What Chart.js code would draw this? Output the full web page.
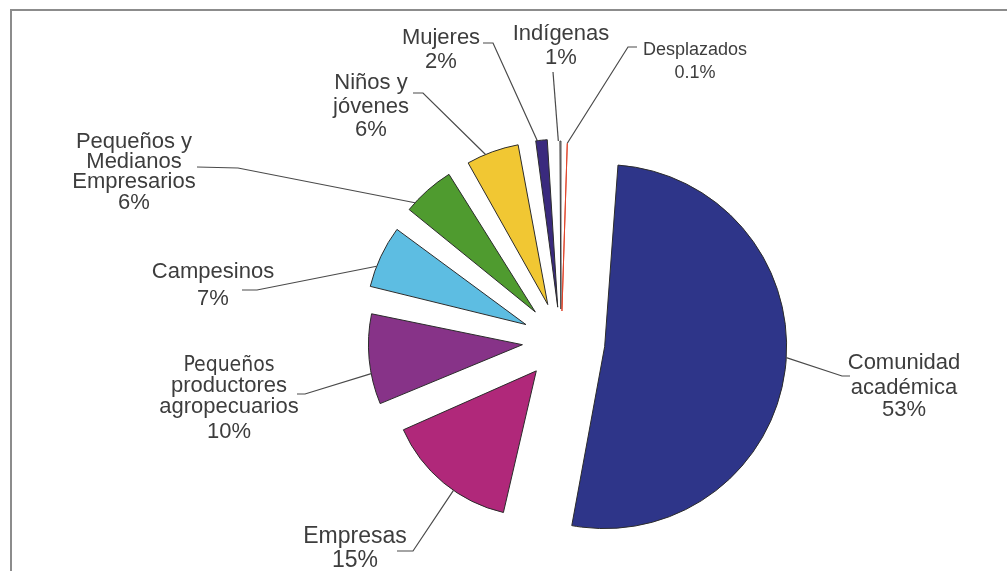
<!DOCTYPE html>
<html>
<head>
<meta charset="utf-8">
<script src="https://cdn.jsdelivr.net/npm/chart.js@4.4.1/dist/chart.umd.min.js"></script>
<style>
  body { margin: 0; background: #fff; }
  .wrap { position: relative; width: 1007px; height: 571px; overflow: hidden; }
  .frame { position: absolute; left: 10px; top: 9px; width: 1100px; height: 700px;
    border-top: 2px solid #8c8c8c; border-left: 2px solid #8c8c8c; }
  #myChart { position: absolute; left: 0; top: 0; }
</style>
</head>
<body>
<div class="wrap">
  <div class="frame"></div>
  <canvas id="myChart" width="1007" height="571"></canvas>
</div>
<script>
// datos del grafico
const categories = ['Comunidad académica', 'Empresas', 'Pequeños productores agropecuarios', 'Campesinos',
  'Pequeños y Medianos Empresarios', 'Niños y jóvenes', 'Mujeres', 'Indígenas', 'Desplazados'];
const shares = [53, 15, 10, 7, 6, 6, 2, 1, 0.1];
const shareLabels = ['53%', '15%', '10%', '7%', '6%', '6%', '2%', '1%', '0.1%'];
// texto de cada etiqueta, linea por linea
const labelLines = [
  ['Comunidad', 'académica'],
  ['Empresas'],
  ['Pequeños', 'productores', 'agropecuarios'],
  ['Campesinos'],
  ['Pequeños y', 'Medianos', 'Empresarios'],
  ['Niños y', 'jóvenes'],
  ['Mujeres'],
  ['Indígenas'],
  ['Desplazados']
];

// estilos
const colors = ['#2e3589', '#b0287a', '#873388', '#5dbde2', '#4f9b2f', '#f1c733', '#3a2a7e', '#ffffff', '#e8462c'];
const borders = ['#2b2b2b', '#2b2b2b', '#2b2b2b', '#2b2b2b', '#2b2b2b', '#2b2b2b', '#2b2b2b', '#3a3a3a', '#e0452b'];
const explode = [176, 155, 155, 155, 155, 155, 136, 128, 120];

// posicion de etiquetas: t = punto del arco, pts = linea guia, x/ys = texto
const labelPos = [
  { t: 0.48, pts: [[842, 376], [850, 376]], x: 904, ys: [363, 388, 410], size: 22 },
  { t: 0.41, pts: [[413, 551], [397, 551]], x: 355, ys: [537, 561], size: 23 },
  { t: 0.35, pts: [[305, 394], [297, 394]], x: 229, ys: [366, 386, 407, 432], size: 22, narrowFirst: true },
  { t: 0.35, pts: [[257, 290], [242, 290]], x: 213, ys: [272, 299], size: 22 },
  { t: 0.21, pts: [[238, 168], [197, 167]], x: 134, ys: [142, 162, 182, 203], size: 22 },
  { t: 0.38, pts: [[423, 93], [413, 93]], x: 371, ys: [83, 107, 130], size: 22 },
  { t: 0.3, pts: [[493, 43], [483, 43]], x: 441, ys: [38, 62], size: 22 },
  { t: 0.3, pts: [[553, 72]], x: 561, ys: [34, 58], size: 22 },
  { t: 0.5, pts: [[628, 47], [637, 47]], x: 695, ys: [50, 73], size: 18 }
];

const outerLabels = {
  id: 'outerLabels',
  afterDraw: (chart) => {
    const ctx = chart.ctx;
    const meta = chart.getDatasetMeta(0);
    meta.data.forEach((arc, i) => {
      const pos = labelPos[i];
      if (!pos) return;
      const {x, y, startAngle, endAngle, outerRadius} = arc;
      const off = (arc.options.offset || 0) / 4;
      const half = (startAngle + endAngle) / 2;
      const fix = 1 - Math.sin(Math.min(Math.PI, endAngle - startAngle));
      const r = outerRadius + off * fix;
      const cx = x + Math.cos(half) * off;
      const cy = y + Math.sin(half) * off;
      const a = startAngle + pos.t * (endAngle - startAngle);

      ctx.save();
      ctx.strokeStyle = '#4a4a4a';
      ctx.lineWidth = 1.2;
      ctx.beginPath();
      ctx.moveTo(cx + Math.cos(a) * r, cy + Math.sin(a) * r);
      pos.pts.forEach(p => ctx.lineTo(p[0], p[1]));
      ctx.stroke();

      ctx.fillStyle = '#3d3d3d';
      ctx.textAlign = 'center';
      ctx.textBaseline = 'middle';
      const lines = labelLines[i].concat([shareLabels[i]]);
      lines.forEach((txt, k) => {
        if (pos.narrowFirst && k == 0) {
          ctx.font = '21px "Liberation Sans Narrow", "DejaVu Sans Condensed", sans-serif';
        } else {
          ctx.font = pos.size + 'px "Liberation Sans", Arial, sans-serif';
        }
        ctx.fillText(txt, pos.x, pos.ys[k]);
      });
      ctx.restore();
    });
  }
};

const canvas = document.getElementById('myChart');
const myChart = new Chart(canvas, {
  type: 'pie',
  data: {
    labels: categories,
    datasets: [{
      data: shares,
      backgroundColor: colors,
      borderColor: borders,
      borderWidth: 1,
      offset: explode
    }]
  },
  options: {
    responsive: false,
    animation: false,
    rotation: 2,
    radius: 138,
    layout: { padding: { left: 115, top: 111, right: 0, bottom: 0 } },
    plugins: {
      legend: { display: false },
      tooltip: { enabled: false }
    }
  },
  plugins: [outerLabels]
});
</script>
</body>
</html>
